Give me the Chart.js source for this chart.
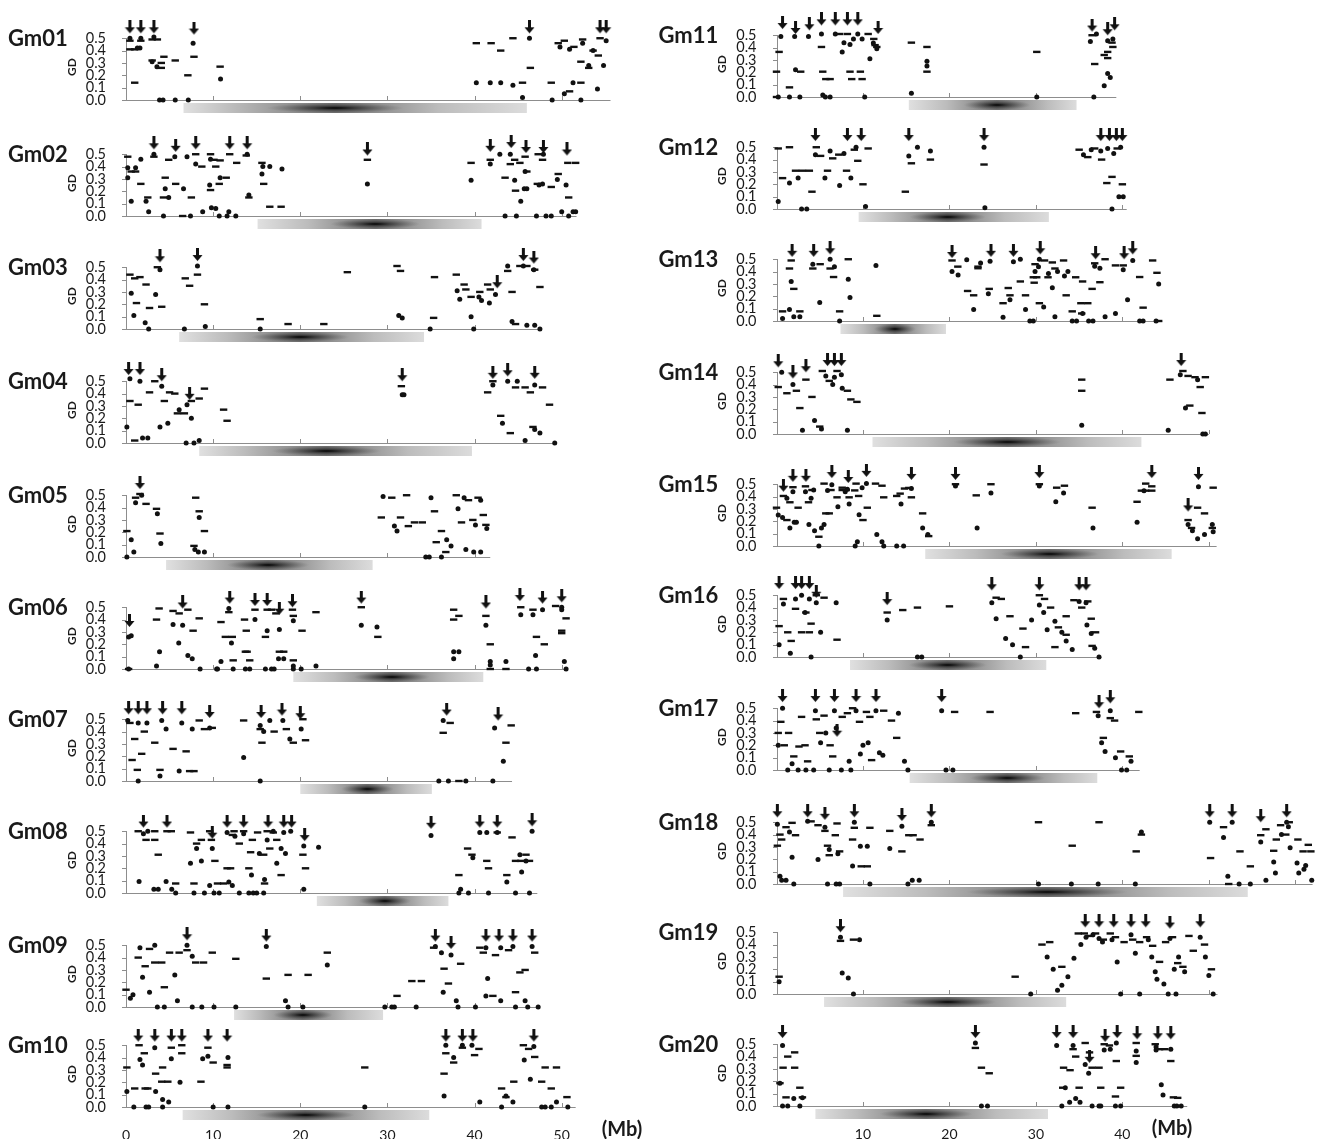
<!DOCTYPE html>
<html>
<head>
<meta charset="utf-8">
<script src="https://cdn.jsdelivr.net/npm/chart.js@4.4.0/dist/chart.umd.min.js"></script>
<style>
  body { margin: 0; background: #fff; }
  #wrap { position: relative; width: 1319px; height: 1139px; overflow: hidden; }
  #wrap canvas { position: absolute; }
</style>
</head>
<body>
<div id="wrap"></div>
<script>
// ---- data (Mb, GD) ----
const chromNames = ["Gm01","Gm02","Gm03","Gm04","Gm05","Gm06","Gm07","Gm08","Gm09","Gm10",
                    "Gm11","Gm12","Gm13","Gm14","Gm15","Gm16","Gm17","Gm18","Gm19","Gm20"];
const chromLengths = [55.6,51.7,47.5,49.2,41.8,50.5,44.3,47.2,47.3,51.6,
                      39.3,40.5,44.6,50.0,50.9,37.6,42.0,62.0,51.0,47.5];
const cenStart = [6.6,15.1,6.1,8.4,4.6,19.2,20.0,21.9,12.4,6.5, 15.3,9.5,7.4,11.1,17.2,8.5,15.4,7.7,5.5,4.5];
const cenEnd   = [46.0,40.8,34.2,39.7,28.3,41.0,35.1,37.0,29.5,34.8, 34.7,31.5,19.6,42.2,45.7,31.2,37.1,54.5,33.5,31.4];
const cenPeak  = [24.0,28.6,20.0,23.0,16.3,30.5,27.7,29.7,20.3,20.6, 25.5,19.8,13.7,26.7,31.6,19.8,26.7,31.3,19.8,17.3];
const yTicks = [0, 0.1, 0.2, 0.3, 0.4, 0.5];

const gm01Dots = [[0.45,0.5],[1.7,0.5],[3.2,0.51],[1.6,0.42],[1.3,0.42],[3.0,0.31],[3.55,0.27],[3.85,0],[4.25,0],[5.65,0],[7.15,0],[7.7,0.46],[10.85,0.17],
  [46.3,0.5],[41.8,0.14],[43.0,0.14],[40.2,0.14],[44.4,0.12],[45.5,0.02],[48.9,0],[49.8,0.43],[50.9,0.41],[52.4,0.46],[51.3,0.14],[50.3,0.05],[53.1,0.28],[52.2,0],[54.8,0.28],[54.1,0.09],[55.1,0.48],[53.6,0.4]];
const gm01Dashes = [[0.45,0.48],[1.7,0.48],[3.0,0.49],[3.6,0.49],[0.45,0.41],[1.0,0.41],[3.0,0.32],[1.0,0.14],[4.05,0.3],[4.35,0.35],[4.05,0.26],[5.65,0.32],[7.1,0.2],[7.8,0.35],[10.8,0.27],
  [40.2,0.46],[41.9,0.46],[43.0,0.4],[44.4,0.5],[46.4,0.26],[45.5,0.14],[48.8,0.14],[49.6,0.46],[50.3,0.48],[51.4,0.43],[52.4,0.49],[52.2,0.14],[50.9,0.07],[52.2,0.31],[53.1,0.26],[53.6,0.4],[54.2,0.36],[54.4,0.5]];
const gm01Arrows = [[0.45,0.54],[1.7,0.54],[3.2,0.54],[7.8,0.53],[46.3,0.54],[54.4,0.54],[55.1,0.54]];

const gm02Dots = [[0.2,0.39],[1.1,0.39],[0.6,0.12],[0.2,0.31],[1.7,0.46],[2.3,0.12],[2.6,0.035],[3.2,0.5],[4.3,0],[4.5,0.22],[4.9,0.15],[5.6,0.48],[6.6,0.22],[7.0,0.48],[7.4,0],[8.0,0.42],[8.8,0.035],[9.7,0.46],[9.6,0.25],[9.8,0.066],[10.3,0.06],[10.8,0.31],[10.7,0],[11.6,0],[11.8,0.035],[12.6,0],[13.9,0.5],[14.1,0.17],[15.7,0.4],[16.5,0.4],[15.6,0.34],[17.9,0.38],
  [27.7,0.26],[39.6,0.29],[41.8,0.42],[42.9,0.5],[44.1,0.5],[44.6,0.29],[45.3,0.12],[45.8,0.36],[45.7,0.22],[46.0,0.22],[43.5,0],[44.8,0],[47.9,0.5],[47.4,0.25],[47.8,0.26],[49.5,0.295],[47.1,0],[48.2,0],[48.8,0],[50.0,0.035],[50.8,0],[51.3,0.035],[51.6,0.035],[50.5,0.25]];
const gm02Dashes = [[0.2,0.48],[0.6,0.36],[1.1,0.36],[1.7,0.26],[2.5,0.15],[3.2,0.48],[4.5,0.31],[4.3,0.15],[4.9,0.455],[5.7,0.26],[6.5,0],[7.5,0.15],[8.0,0.5],[8.7,0.4],[9.7,0.5],[10.1,0.455],[10.8,0.45],[10.3,0.4],[9.7,0.21],[10.7,0.26],[11.5,0.31],[11.9,0.5],[12.7,0.43],[13.8,0.49],[14.1,0.15],[15.6,0.43],[15.8,0.26],[16.5,0.075],[17.8,0.075],
  [27.7,0.455],[39.6,0.43],[41.8,0.455],[44.6,0.455],[44.1,0.42],[43.5,0.31],[44.7,0.205],[45.8,0.48],[45.2,0.43],[46.0,0.36],[47.3,0.5],[47.8,0.455],[47.2,0.26],[48.8,0.235],[49.6,0.34],[50.7,0.43],[51.6,0.43],[50.8,0.15]];
const gm02Arrows = [[3.2,0.54],[5.7,0.52],[8.0,0.54],[11.9,0.54],[13.9,0.54],[27.7,0.49],[41.8,0.52],[44.2,0.55],[45.9,0.51],[47.9,0.51],[50.6,0.49]];

const gm03Dots = [[0.6,0.29],[0.9,0.11],[2.2,0.05],[2.6,0],[3.9,0.48],[3.4,0.28],[6.7,0],[8.2,0.51],[9.1,0.02],[15.4,0],[31.3,0.11],[31.7,0.09],[34.9,0],[38.0,0.31],[38.3,0.24],[39.6,0.1],[39.9,0],[40.5,0.26],[40.8,0.23],[41.7,0.21],[42.4,0.28],[43.8,0.51],[44.3,0.06],[45.6,0.51],[46.8,0.48],[46.9,0.03],[47.5,0],[46.0,0.03]];
const gm03Dashes = [[0.45,0.44],[1.0,0.41],[1.6,0.42],[1.2,0.21],[2.3,0.36],[2.7,0.17],[3.6,0.5],[4.1,0.18],[6.8,0.41],[8.2,0.44],[9.0,0.2],[7.3,0.35],[15.4,0.08],[18.6,0.04],[22.7,0.04],[25.4,0.46],[31.1,0.51],[31.5,0.47],[35.3,0.09],[35.4,0.42],[37.9,0.44],[38.8,0.36],[39.0,0.32],[39.6,0.26],[40.6,0.3],[41.5,0.36],[41.8,0.32],[43.8,0.47],[44.3,0.3],[44.7,0.04],[45.2,0.51],[46.0,0.51],[46.9,0.48],[47.5,0.34]];
const gm03Arrows = [[3.9,0.54],[8.2,0.55],[42.6,0.33],[45.6,0.55],[46.8,0.53]];

const gm04Dots = [[0.1,0.13],[0.45,0.52],[1.6,0.5],[1.9,0.04],[2.5,0.04],[4.1,0.46],[3.9,0.13],[4.8,0.16],[6.1,0.27],[7.0,0.31],[7.5,0.2],[6.9,0],[7.8,0],[8.4,0.02],[31.7,0.39],[31.9,0.39],[42.1,0.47],[43.2,0.16],[43.8,0.5],[44.9,0.5],[46.9,0.11],[47.5,0.08],[45.8,0.02],[46.9,0.47],[49.2,0]];
const gm04Dashes = [[0.45,0.34],[1.4,0.31],[1.0,0.02],[2.7,0.41],[3.3,0.5],[4.4,0.34],[5.0,0.41],[5.6,0.4],[5.9,0.24],[6.7,0.24],[7.5,0.34],[8.4,0.36],[9.0,0.44],[11.2,0.27],[11.6,0.18],[31.6,0.46],[41.5,0.41],[42.1,0.5],[43.0,0.22],[44.1,0.08],[44.7,0.45],[45.8,0.45],[46.4,0.41],[46.7,0.13],[47.8,0.45],[48.6,0.31]];
const gm04Arrows = [[0.3,0.55],[1.6,0.55],[4.1,0.5],[7.3,0.35],[31.7,0.5],[42.1,0.52],[43.8,0.54],[46.9,0.52]];

const gm05Dots = [[0.1,0],[0.6,0.14],[0.9,0.04],[1.1,0.44],[1.8,0.5],[3.6,0.35],[4.0,0.11],[7.9,0.06],[8.3,0.04],[8.4,0.32],[9.0,0.04],[29.5,0.49],[30.8,0.25],[31.1,0.21],[34.4,0],[34.8,0],[35.0,0.48],[36.2,0],[36.8,0.14],[37.3,0.09],[38.1,0.39],[38.8,0.48],[39.0,0.06],[40.1,0.26],[40.7,0.46],[41.4,0.23],[40.7,0.04],[39.9,0.04]];
const gm05Dashes = [[0.1,0.21],[1.1,0.48],[1.6,0.51],[2.3,0.43],[3.5,0.39],[3.9,0.19],[7.8,0.09],[8.0,0.48],[8.4,0.37],[9.0,0.21],[29.3,0.32],[30.5,0.48],[31.5,0.32],[32.2,0.5],[32.4,0.25],[33.1,0.28],[34.0,0.28],[35.4,0.37],[35.6,0.12],[36.2,0.21],[36.7,0.04],[37.9,0.5],[38.5,0.28],[39.3,0.46],[39.8,0.3],[40.4,0.48],[41.3,0.26],[41.0,0.34]];
const gm05Arrows = [[1.6,0.55]];

const gm06Dots = [[0.3,0],[0.3,0.26],[0.6,0.27],[3.5,0.024],[3.85,0.14],[5.4,0.36],[6.05,0.21],[6.5,0.355],[7.1,0.11],[7.6,0.083],[8.5,0],[12.1,0.21],[11.8,0.49],[10.9,0.06],[10.4,0],[10.5,0],[12.3,0],[13.7,0],[14.2,0],[14.8,0.4],[16.2,0.31],[16.0,0],[16.7,0],[17.0,0],[17.6,0.32],[17.5,0.083],[18.1,0.083],[19.2,0.39],[19.2,0.024],[19.2,0],[20.1,0],[21.8,0.024],
  [27.0,0.355],[28.8,0.34],[37.6,0.14],[38.2,0.14],[37.6,0.083],[41.3,0.355],[41.8,0.06],[41.8,0.033],[43.6,0.06],[45.3,0.44],[46.7,0.44],[47.0,0.11],[47.8,0.48],[46.2,0],[47.1,0],[50.0,0.5],[50.0,0.48],[50.3,0.06],[50.5,0]];
const gm06Dashes = [[0.3,0],[3.5,0.4],[3.8,0.49],[5.4,0.47],[6.1,0.45],[7.1,0.48],[7.7,0.31],[8.4,0.41],[10.9,0.38],[11.4,0.26],[12.2,0.26],[11.8,0.46],[12.3,0.07],[13.6,0.4],[13.8,0.31],[13.7,0.14],[13.9,0.14],[14.2,0.07],[14.8,0.48],[16.0,0.26],[16.2,0.48],[16.7,0.48],[17.2,0.45],[17.6,0.14],[18.1,0.14],[19.1,0.48],[19.2,0.43],[20.2,0.31],[19.2,0.07],[21.8,0.46],
  [27.0,0.5],[28.9,0.26],[37.6,0.48],[38.2,0.43],[37.6,0.4],[41.3,0.43],[41.8,0.2],[41.8,0],[43.6,0],[45.3,0.5],[46.7,0.48],[47.1,0.26],[48.0,0.2],[49.3,0.51],[50.5,0.41],[50.0,0.31],[50.0,0.29]];
const gm06Arrows = [[0.4,0.34],[6.5,0.49],[11.9,0.53],[14.8,0.51],[16.2,0.51],[17.6,0.44],[19.1,0.5],[27.0,0.53],[41.3,0.49],[45.2,0.55],[47.8,0.53],[50.0,0.54]];

const gm07Dots = [[0.2,0.49],[1.4,0.47],[2.4,0.47],[4.1,0.49],[4.6,0.42],[6.4,0.47],[7.6,0.42],[1.4,0],[3.9,0.04],[6.1,0.08],[9.6,0.43],[13.5,0.19],[15.4,0.45],[15.8,0.4],[15.4,0],[16.5,0.49],[18.0,0.49],[18.8,0.34],[20.1,0.42],[36.4,0.49],[35.9,0],[37.0,0],[39.0,0],[42.3,0.43],[43.3,0.16],[42.1,0]];
const gm07Dashes = [[0.45,0.47],[1.0,0.34],[0.7,0.17],[1.3,0.09],[1.8,0.22],[2.1,0.4],[3.3,0.31],[3.9,0.09],[5.4,0.26],[6.9,0.24],[7.3,0.08],[7.8,0.08],[8.4,0.49],[9.0,0.42],[9.9,0.43],[13.5,0.49],[15.4,0.42],[15.6,0.31],[17.0,0.4],[18.4,0.42],[19.2,0.31],[20.3,0.5],[20.6,0.33],[36.4,0.39],[37.2,0.47],[38.2,0],[43.6,0.31],[44.2,0.45]];
const gm07Arrows = [[0.3,0.54],[1.4,0.54],[2.4,0.54],[4.2,0.54],[6.4,0.54],[9.6,0.51],[15.5,0.51],[17.9,0.53],[20.0,0.5],[36.8,0.53],[42.7,0.49]];

const gm08Dots = [[2.0,0.48],[2.5,0.5],[1.5,0.094],[3.2,0.03],[3.7,0.03],[4.6,0.094],[5.25,0.03],[5.7,0],[7.4,0.24],[7.8,0],[8.1,0.36],[8.65,0.26],[9.0,0],[9.9,0.36],[9.6,0.06],[10.1,0],[10.7,0],[11.8,0.09],[12.2,0.06],[11.6,0.49],[12.5,0.46],[13.0,0],[13.5,0.48],[14.4,0.145],[14.1,0],[14.6,0],[15.0,0],[15.8,0],[15.3,0.32],[15.9,0.11],[16.2,0.43],[16.9,0.5],[17.3,0.24],[17.8,0.36],[18.3,0.32],[18.1,0.49],[18.9,0.5],[20.4,0.38],[20.4,0.03],[22.1,0.37],
  [35.0,0.465],[38.4,0.03],[38.2,0],[39.3,0],[39.8,0.285],[40.6,0.49],[41.4,0.49],[41.6,0],[42.6,0.49],[43.7,0.09],[45.2,0.31],[45.9,0.26],[45.4,0.17],[44.7,0],[46.3,0],[46.6,0.5]];
const gm08Dashes = [[1.4,0.5],[3.3,0.5],[2.3,0.43],[3.3,0.43],[3.7,0.31],[5.7,0.077],[4.7,0.5],[5.2,0.5],[7.4,0.49],[7.8,0.077],[8.1,0.4],[8.65,0.43],[9.8,0.43],[9.6,0.5],[10.2,0.26],[10.5,0.077],[11.2,0.077],[12.4,0.5],[12.2,0.47],[11.6,0.2],[12.0,0.2],[13.5,0.5],[13.0,0.4],[14.1,0.2],[14.5,0.43],[14.3,0.33],[15.8,0.31],[15.1,0.49],[16.2,0.5],[16.9,0.49],[15.9,0.077],[16.5,0.36],[17.3,0.43],[17.8,0.145],[20.3,0.31],[20.6,0.2],
  [38.2,0.145],[39.2,0.36],[39.7,0.31],[41.4,0.26],[41.6,0.2],[42.6,0.49],[43.7,0.145],[44.3,0.45],[45.9,0.31],[44.7,0.26],[45.3,0.26],[46.3,0.26]];
const gm08Arrows = [[2.0,0.53],[4.7,0.53],[9.9,0.44],[11.6,0.53],[13.5,0.53],[16.3,0.53],[18.1,0.53],[19.0,0.53],[20.5,0.42],[35.0,0.52],[40.6,0.53],[42.6,0.53],[46.6,0.54]];

const gm09Dots = [[0.5,0.07],[0.8,0.1],[1.6,0.48],[1.9,0.24],[2.7,0.12],[3.3,0.5],[3.6,0],[4.4,0],[5.6,0.26],[5.9,0.05],[7.0,0.5],[7.6,0.41],[7.6,0],[8.7,0],[10.1,0],[12.6,0],[16.1,0.49],[18.3,0.05],[18.6,0],[20.3,0],[23.1,0.34],[29.7,0],[30.5,0],[30.8,0],[33.3,0],[35.5,0.49],[36.2,0.44],[36.4,0.12],[37.3,0.42],[37.9,0.05],[38.1,0],[40.1,0],[41.3,0.48],[41.5,0.23],[41.3,0.09],[43.0,0.48],[43.0,0.05],[44.4,0.49],[44.7,0],[45.8,0.05],[46.1,0],[46.6,0.49],[47.3,0]];
const gm09Dashes = [[0,0.14],[1.4,0.4],[2.2,0.33],[2.7,0.47],[3.3,0.36],[4.1,0.36],[4.4,0.16],[5.0,0.44],[6.1,0.44],[7.0,0.46],[8.0,0.36],[8.9,0.36],[9.9,0.44],[12.6,0.39],[16.1,0.23],[18.6,0.26],[20.9,0.26],[23.1,0.44],[31.1,0.09],[32.8,0.21],[33.9,0.21],[35.3,0.48],[36.5,0.31],[37.0,0.19],[38.4,0.35],[40.6,0.48],[41.0,0.44],[42.4,0.42],[42.1,0.09],[43.9,0.46],[44.7,0.12],[45.2,0.28],[45.8,0.3],[46.9,0.44]];
const gm09Arrows = [[7.0,0.54],[16.1,0.53],[35.5,0.53],[37.3,0.47],[41.3,0.53],[42.8,0.53],[44.4,0.53],[46.6,0.53]];

const gm10Dots = [[0.1,0.125],[0.9,0],[1.6,0.385],[1.9,0.34],[2.3,0],[2.6,0],[3.3,0.48],[3.4,0.125],[4.2,0.06],[4.9,0.04],[4.2,0],[5.2,0.39],[6.2,0.2],[8.8,0.39],[9.4,0.41],[10.0,0],[11.7,0.4],[11.7,0],[27.4,0],
  [36.5,0.09],[36.7,0.5],[37.6,0.4],[38.6,0.5],[39.7,0.5],[40.6,0.04],[43.6,0.09],[43.1,0],[44.4,0.04],[45.7,0.38],[46.8,0.49],[46.4,0.225],[47.7,0],[48.1,0],[48.8,0],[49.4,0.04],[50.7,0]];
const gm10Dashes = [[0.1,0.32],[1.0,0.15],[2.2,0.15],[1.5,0.5],[2.1,0.435],[2.5,0.15],[3.4,0.27],[4.2,0.32],[4.1,0.205],[4.8,0.205],[5.2,0.48],[6.4,0.5],[6.4,0.435],[8.6,0.205],[9.4,0.48],[10.0,0.36],[11.6,0.34],[11.6,0.32],[27.4,0.32],
  [36.5,0.27],[36.7,0.435],[37.6,0.36],[38.6,0.48],[40.0,0.42],[40.5,0.47],[43.1,0.15],[43.6,0.08],[44.5,0.205],[45.6,0.5],[46.2,0.47],[46.9,0.405],[47.7,0.205],[48.1,0.32],[49.4,0.32],[48.8,0.15],[50.6,0.08]];
const gm10Arrows = [[1.4,0.53],[3.3,0.53],[5.2,0.53],[6.4,0.53],[9.4,0.53],[11.6,0.53],[36.7,0.53],[38.6,0.53],[39.8,0.53],[46.8,0.53]];

const gm11Dots = [[0.5,0.49],[0.2,0],[2.1,0.49],[1.5,0],[2.2,0.22],[2.7,0],[3.7,0.49],[5.2,0.51],[5.35,0.017],[5.65,0],[6.2,0],[6.8,0.51],[7.6,0.365],[7.8,0.44],[8.5,0.425],[8.9,0.47],[9.4,0.51],[9.9,0.47],[10.2,0],[11.2,0.437],[11.6,0.39],[10.8,0.31],[15.6,0.03],[17.4,0.29],[17.4,0.25],
  [30.1,0],[37.0,0.51],[36.3,0.45],[36.7,0],[38.3,0.455],[38.9,0.47],[38.3,0.19],[38.6,0.158],[37.9,0.092]];
const gm11Dashes = [[0,0],[0.3,0.365],[0,0.205],[1.5,0.078],[2.8,0.205],[5.2,0.405],[5.35,0.205],[5.7,0.145],[6.2,0.145],[7.3,0.51],[8.2,0.51],[8.5,0.205],[8.7,0.145],[9.7,0.205],[9.9,0.145],[10.6,0.51],[11.25,0.47],[11.4,0.42],[11.6,0.405],[15.6,0.44],[17.4,0.405],[17.4,0.205],
  [30.1,0.365],[36.5,0.5],[36.8,0.267],[38.9,0.405],[38.3,0.365],[37.9,0.34],[38.3,0.315],[38.8,0.44]];
const gm11Arrows = [[0.7,0.55],[2.2,0.51],[3.8,0.54],[5.2,0.58],[6.8,0.58],[8.2,0.58],[9.4,0.58],[11.75,0.51],[36.5,0.53],[38.3,0.5],[39.1,0.54]];

const gm12Dots = [[0.2,0.06],[1.5,0.21],[2.5,0.25],[2.9,0],[3.5,0],[4.5,0.44],[5.6,0.25],[6.2,0.47],[7.3,0.19],[7.8,0.45],[8.6,0.25],[9.2,0.5],[10.3,0.02],[15.3,0.43],[16.3,0.5],[17.8,0.47],[24.0,0.5],[24.1,0.01],[35.5,0.44],[36.4,0.48],[37.5,0.47],[38.3,0.49],[39.0,0.45],[39.8,0.5],[38.8,0],[39.6,0.1],[40.1,0.1]];
const gm12Dashes = [[0.2,0.49],[0.7,0.25],[1.5,0.5],[2.2,0.31],[3.0,0.31],[3.8,0.31],[4.1,0.14],[4.6,0.5],[5.1,0.43],[5.9,0.31],[6.5,0.41],[7.2,0.44],[8.1,0.31],[9.0,0.48],[9.4,0.39],[10.0,0.2],[10.6,0.49],[14.9,0.14],[15.6,0.37],[17.8,0.4],[24.0,0.36],[35.0,0.48],[36.0,0.42],[36.8,0.49],[37.6,0.4],[38.2,0.21],[38.8,0.26],[39.4,0.49],[40.0,0.2]];
const gm12Arrows = [[4.5,0.55],[8.2,0.55],[9.8,0.55],[15.3,0.55],[24.0,0.55],[37.5,0.55],[38.5,0.55],[39.3,0.55],[40.0,0.55]];

const gm13Dots = [[0.7,0.02],[1.5,0.094],[1.7,0.32],[2.0,0.035],[2.7,0.035],[4.2,0.46],[5.0,0.15],[6.2,0.5],[6.7,0.44],[7.3,0],[8.3,0.337],[8.5,0.19],[11.5,0.45],
  [20.3,0.4],[21.0,0.373],[22.8,0.094],[22.0,0.495],[23.6,0.47],[24.7,0.483],[24.5,0.22],[26.2,0.03],[27.0,0.172],[27.4,0.48],[28.2,0.5],[28.8,0.094],[29.3,0],[29.7,0],[29.9,0.4],[30.3,0.44],[30.4,0.5],[30.9,0.113],[31.45,0.384],[31.9,0.27],[32.5,0.4],[33.3,0.365],[33.7,0.4],[32.2,0.035],[34.2,0],[34.7,0],[35.4,0.061],[36.1,0],[36.6,0],[36.8,0.443],[37.4,0.427],[38.0,0.035],[39.2,0.061],[40.1,0.415],[40.6,0.172],[41.2,0.49],[42.0,0],[42.4,0],[43.9,0],[44.2,0.3]];
const gm13Dashes = [[0.7,0.078],[1.5,0.425],[2.0,0.26],[1.7,0.49],[2.7,0.078],[4.2,0.425],[5.05,0.46],[6.2,0.425],[6.6,0.356],[7.3,0.078],[8.3,0.5],[11.6,0.042],
  [20.3,0.49],[20.97,0.44],[22.1,0.243],[22.8,0.208],[23.3,0.44],[23.3,0.427],[24.6,0.26],[26.2,0.144],[26.8,0.267],[27.0,0.208],[28.2,0.32],[28.8,0.208],[29.7,0.354],[29.8,0.31],[29.9,0.46],[30.1,0.354],[31.0,0.49],[30.4,0.144],[31.4,0.354],[31.9,0.474],[32.2,0.425],[33.2,0.49],[33.5,0.208],[34.2,0.078],[34.6,0.354],[35.4,0.32],[35.3,0.061],[35.2,0.144],[36.0,0.144],[36.5,0.26],[36.8,0.467],[37.4,0.314],[38.0,0.5],[39.2,0.45],[40.1,0.45],[42.0,0.356],[42.4,0.108],[43.5,0.49],[44.0,0.39],[44.2,0]];
const gm13Arrows = [[1.8,0.52],[4.3,0.52],[6.2,0.54],[20.3,0.51],[24.8,0.52],[27.4,0.52],[30.5,0.54],[36.9,0.5],[40.2,0.5],[41.2,0.54]];

const gm14Dots = [[0.6,0.5],[1.9,0.4],[3.0,0.03],[4.4,0.11],[5.2,0.04],[5.7,0.47],[6.5,0.4],[6.7,0.46],[7.5,0.48],[7.6,0.37],[8.2,0.03],[35.3,0.07],[45.3,0.03],[46.7,0.48],[47.3,0.21],[48.7,0.44],[49.3,0],[49.6,0]];
const gm14Dashes = [[0.2,0.38],[1.2,0.33],[2.3,0.35],[2.7,0.21],[3.4,0.44],[4.1,0.3],[5.0,0.06],[5.3,0.51],[6.1,0.43],[7.0,0.51],[8.2,0.35],[8.6,0.28],[9.3,0.26],[35.3,0.44],[35.3,0.35],[45.5,0.44],[47.0,0.51],[47.6,0.47],[47.8,0.23],[48.4,0.46],[49.0,0.38],[49.2,0.17],[49.6,0.46]];
const gm14Arrows = [[0.2,0.54],[1.9,0.45],[3.4,0.5],[5.9,0.55],[6.7,0.55],[7.5,0.55],[46.8,0.55]];

const gm15Dots = [[0.2,0.25],[0.7,0.23],[1.2,0.387],[1.55,0.146],[2.05,0.193],[2.3,0.193],[1.9,0.44],[3.35,0.44],[4.0,0.387],[3.75,0.175],[4.4,0.123],[4.9,0],[5.2,0.146],[5.5,0.175],[4.3,0.453],[6.4,0.495],[5.9,0.45],[7.1,0.318],[7.95,0.44],[8.2,0.46],[8.4,0.34],[9.9,0.472],[9.55,0.252],[9.1,0],[9.35,0.035],[10.4,0.505],[11.6,0.094],[12.2,0.035],[12.4,0],[13.9,0],[14.7,0],[14.4,0.34],[15.6,0.465],[16.9,0.146],[17.5,0.094],
  [20.7,0.485],[23.2,0.146],[24.8,0.43],[30.4,0.485],[33.2,0.43],[32.3,0.358],[36.6,0.146],[41.7,0.193],[42.5,0.448],[47.6,0.175],[48.1,0.123],[48.7,0.059],[49.5,0.094],[48.8,0.48],[50.4,0.175],[50.5,0.116]];
const gm15Dashes = [[0,0.31],[1.2,0.21],[0.8,0.405],[1.55,0.354],[2.5,0.31],[1.9,0.476],[3.35,0.483],[3.7,0.354],[4.9,0.075],[4.1,0.453],[5.7,0.264],[6.1,0.264],[5.5,0.505],[6.3,0.453],[7.0,0.394],[7.6,0.472],[7.6,0.453],[8.05,0.453],[8.4,0.394],[9.2,0.505],[9.05,0.45],[9.5,0.405],[10.0,0.21],[10.5,0.31],[11.45,0.505],[12.2,0.488],[12.4,0.394],[13.9,0.405],[14.3,0.424],[14.8,0.465],[15.3,0.47],[15.6,0.394],[16.9,0.264],[17.6,0.08],
  [20.7,0.5],[23.1,0.41],[24.8,0.5],[30.4,0.5],[32.4,0.472],[33.3,0.488],[36.5,0.31],[41.7,0.358],[42.2,0.448],[42.7,0.448],[42.7,0.505],[43.4,0.448],[43.4,0.483],[47.6,0.21],[48.0,0.146],[48.7,0.31],[49.5,0.264],[50.5,0.472],[50.4,0.146]];
const gm15Arrows = [[0.8,0.44],[1.9,0.52],[3.4,0.52],[6.4,0.55],[8.3,0.51],[10.4,0.56],[15.6,0.535],[20.7,0.535],[30.4,0.55],[43.4,0.55],[47.6,0.28],[48.8,0.535]];

const gm16Dots = [[0.3,0.1],[0.8,0.43],[1.6,0.03],[2.2,0.47],[2.9,0.5],[3.3,0.36],[3.8,0.47],[4.6,0.44],[5.1,0.2],[4.0,0],[6.9,0.44],[12.8,0.3],[16.3,0],[16.8,0],[24.9,0.44],[25.4,0.31],[26.5,0.15],[27.3,0.1],[28.2,0],[29.5,0.3],[30.4,0.42],[30.9,0.36],[31.3,0.22],[32.2,0.29],[33.0,0.2],[33.5,0.13],[34.2,0.06],[35.0,0.45],[35.8,0.44],[35.9,0.26],[36.4,0.19],[36.8,0.07],[37.3,0]];
const gm16Dashes = [[0.3,0.25],[0.8,0.47],[1.3,0.2],[1.7,0.13],[2.2,0.39],[2.9,0.2],[3.4,0.36],[3.8,0.2],[4.6,0.5],[4.0,0.27],[5.5,0.48],[7.0,0.14],[12.8,0.36],[14.6,0.38],[16.3,0.4],[20.0,0.41],[25.4,0.48],[26.0,0.47],[27.0,0.33],[28.5,0.23],[28.8,0.08],[30.4,0.5],[31.0,0.47],[31.7,0.4],[32.2,0.08],[32.6,0.24],[33.5,0.18],[33.5,0.33],[34.4,0.46],[35.3,0.4],[36.0,0.45],[36.4,0.31],[36.9,0.2],[36.5,0.09]];
const gm16Arrows = [[0.3,0.55],[2.2,0.55],[2.9,0.55],[3.8,0.55],[4.6,0.48],[12.8,0.42],[24.9,0.54],[30.4,0.54],[35.0,0.54],[35.8,0.54]];

const gm17Dots = [[0.2,0.2],[0.7,0.5],[1.3,0],[1.8,0.05],[2.5,0],[3.4,0],[4.5,0.48],[4.3,0],[5.1,0.22],[5.7,0.3],[6.1,0],[6.7,0.48],[6.9,0.34],[7.5,0],[8.4,0.07],[8.6,0],[9.2,0.48],[9.7,0.13],[10.0,0.2],[10.6,0.22],[11.5,0.48],[11.9,0.14],[12.3,0.12],[14.1,0.46],[14.8,0.07],[15.2,0],[19.1,0.48],[19.6,0],[20.4,0],[37.2,0.44],[37.6,0.22],[38.0,0.15],[38.6,0.48],[39.2,0.1],[39.9,0],[40.5,0],[41.0,0.07]];
const gm17Dashes = [[0.2,0.3],[0.5,0.39],[0.9,0.2],[1.4,0.3],[2.0,0.11],[2.6,0.19],[2.9,0.43],[3.3,0.2],[3.6,0.07],[4.6,0.41],[5.0,0.3],[5.5,0.44],[6.2,0.2],[6.5,0.11],[7.6,0.43],[8.2,0.46],[8.8,0.5],[9.6,0.39],[10.4,0.47],[10.8,0.43],[11.0,0.08],[12.4,0.48],[13.3,0.4],[13.9,0.26],[20.6,0.47],[24.7,0.47],[34.6,0.46],[37.0,0.47],[37.8,0.26],[38.6,0.42],[39.1,0.4],[39.8,0.15],[40.8,0.11],[41.9,0.47]];
const gm17Arrows = [[0.7,0.55],[4.5,0.55],[6.7,0.55],[7.0,0.27],[9.2,0.55],[11.5,0.55],[19.1,0.55],[37.3,0.5],[38.6,0.54]];

const gm18Dots = [[0.1,0.483],[1.5,0.42],[1.8,0.217],[0.4,0.062],[0.6,0.03],[1.1,0.03],[2.0,0],[3.6,0.507],[5.6,0.46],[4.8,0.198],[6.1,0.28],[7.1,0.245],[5.9,0],[6.9,0],[7.3,0],[9.0,0.5],[9.7,0.305],[10.5,0.305],[8.8,0.145],[10.8,0],[13.1,0.288],[14.5,0.467],[15.2,0],[15.7,0.03],[16.5,0.03],[17.9,0.5],
  [30.3,0],[34.1,0],[37.2,0],[41.5,0],[42.2,0.42],[50.1,0.5],[51.7,0.376],[52.2,0.062],[53.5,0],[52.7,0.5],[54.8,0],[56.0,0.34],[56.6,0.03],[57.5,0.179],[57.7,0.09],[58.4,0.4],[59.0,0.5],[59.2,0.464],[59.4,0.293],[60.2,0.169],[61.2,0.15],[61.0,0.119],[60.4,0.09],[61.9,0.03]];
const gm18Dashes = [[0.4,0.4],[0.6,0.36],[0.1,0.31],[1.1,0.46],[1.8,0.495],[2.2,0.395],[4.0,0.507],[4.8,0.476],[5.6,0.43],[7.0,0.49],[5.9,0.31],[6.1,0.233],[7.3,0.264],[6.8,0.395],[9.0,0.455],[10.8,0.455],[8.8,0.36],[9.8,0.143],[10.5,0.143],[13.1,0.43],[15.3,0.395],[15.8,0.395],[16.6,0.36],[14.5,0.264],[17.9,0.476],
  [30.3,0.5],[34.2,0.31],[37.3,0.5],[41.6,0.264],[42.2,0.4],[50.2,0.21],[51.7,0.46],[52.3,0],[53.6,0.264],[54.8,0.143],[56.0,0.395],[56.6,0.443],[57.5,0.269],[57.8,0.36],[58.3,0.476],[58.9,0.4],[59.3,0.5],[60.3,0.36],[60.9,0.264],[61.5,0.317],[61.8,0.264]];
const gm18Arrows = [[0.1,0.54],[3.6,0.54],[5.6,0.52],[9.0,0.54],[14.5,0.51],[17.9,0.54],[50.1,0.54],[52.7,0.54],[56.0,0.5],[59.0,0.54]];

const gm19Dots = [[0.3,0.1],[7.4,0.46],[7.6,0.17],[8.3,0.13],[8.9,0],[9.6,0.44],[29.4,0],[31.3,0.3],[32.0,0.2],[32.5,0.03],[33.0,0.07],[33.7,0.14],[34.4,0.29],[35.2,0.4],[35.8,0.46],[36.6,0.48],[37.3,0.45],[37.7,0.42],[38.8,0.44],[39.4,0.26],[39.8,0],[41.0,0.48],[41.5,0.33],[42.0,0],[43.0,0.44],[43.4,0.3],[43.8,0.18],[44.0,0.12],[44.8,0.08],[45.3,0],[45.5,0.45],[46.0,0.2],[46.2,0],[46.5,0.3],[47.2,0.18],[49.0,0.46],[49.6,0.3],[50.0,0.15],[50.5,0]];
const gm19Dashes = [[0.3,0.14],[7.4,0.43],[8.9,0.44],[27.6,0.14],[30.7,0.4],[31.6,0.42],[33.0,0.22],[34.9,0.49],[35.6,0.49],[36.3,0.47],[36.9,0.49],[37.8,0.44],[38.6,0.49],[39.2,0.46],[40.2,0.42],[41.2,0.44],[42.0,0.42],[42.8,0.46],[43.5,0.39],[44.3,0.26],[45.0,0.42],[45.8,0.46],[46.4,0.25],[47.0,0.22],[47.7,0.47],[48.2,0.35],[49.5,0.4],[50.3,0.2]];
const gm19Arrows = [[7.4,0.5],[35.7,0.54],[37.3,0.54],[39.0,0.54],[41.0,0.54],[42.7,0.54],[45.5,0.53],[49.0,0.54]];

const gm20Dots = [[0.4,0.185],[0.7,0.49],[0.7,0],[1.3,0],[2.0,0.06],[2.7,0],[3.0,0.066],[23.0,0.51],[23.7,0],[24.4,0],[32.4,0.49],[33.4,0.148],[33.0,0],[33.9,0.03],[34.6,0.06],[35.1,0.03],[34.3,0.49],[35.7,0.335],[36.1,0.265],[36.5,0],[37.3,0],[37.5,0],[37.9,0.453],[38.6,0.46],[39.3,0.51],[39.2,0],[39.8,0],[41.6,0.446],[41.6,0.352],[43.9,0.477],[43.9,0.453],[44.5,0.171],[44.7,0.089],[45.6,0.46],[46.0,0],[46.3,0],[46.8,0]];
const gm20Dashes = [[0.4,0.185],[0.76,0.31],[1.3,0.4],[2.1,0.434],[2.1,0.31],[1.1,0.07],[2.7,0.148],[3.0,0.07],[23.0,0.47],[23.7,0.31],[24.6,0.265],[33.2,0.31],[33.95,0.29],[33.1,0.148],[34.3,0.46],[34.6,0.4],[35.0,0.148],[35.7,0.51],[36.2,0.434],[36.5,0.31],[37.3,0.31],[37.5,0.148],[37.9,0.5],[38.5,0.49],[39.3,0.364],[39.2,0.077],[39.8,0.148],[41.6,0.51],[41.6,0.406],[43.8,0.5],[44.3,0.46],[44.9,0.46],[45.6,0.364],[45.9,0.07],[46.4,0.066]];
const gm20Arrows = [[0.7,0.55],[23.0,0.55],[32.4,0.55],[34.3,0.55],[36.2,0.35],[38.0,0.52],[39.4,0.55],[41.7,0.54],[44.1,0.54],[45.6,0.54]];

const allDots = [gm01Dots,gm02Dots,gm03Dots,gm04Dots,gm05Dots,gm06Dots,gm07Dots,gm08Dots,gm09Dots,gm10Dots,
                 gm11Dots,gm12Dots,gm13Dots,gm14Dots,gm15Dots,gm16Dots,gm17Dots,gm18Dots,gm19Dots,gm20Dots];
const allDashes = [gm01Dashes,gm02Dashes,gm03Dashes,gm04Dashes,gm05Dashes,gm06Dashes,gm07Dashes,gm08Dashes,gm09Dashes,gm10Dashes,
                   gm11Dashes,gm12Dashes,gm13Dashes,gm14Dashes,gm15Dashes,gm16Dashes,gm17Dashes,gm18Dashes,gm19Dashes,gm20Dashes];
const allArrows = [gm01Arrows,gm02Arrows,gm03Arrows,gm04Arrows,gm05Arrows,gm06Arrows,gm07Arrows,gm08Arrows,gm09Arrows,gm10Arrows,
                   gm11Arrows,gm12Arrows,gm13Arrows,gm14Arrows,gm15Arrows,gm16Arrows,gm17Arrows,gm18Arrows,gm19Arrows,gm20Arrows];

// ---- layout ----
const zeroLeft  = [100, 216, 329, 443, 557, 669, 781, 893, 1007, 1107];
const zeroRight = [97, 209, 321, 434, 546, 657, 770, 884, 994, 1106];
const PAD_TOP = 10, PLOT_H = 91, X_H = 35, Y_MAX = 0.65;
const INK = "#111", AXIS = "#8d8d8d";

Chart.defaults.font.family = "Lato, 'Open Sans', sans-serif";
Chart.defaults.color = "#1a1a1a";

function makeArrow() {
  const c = document.createElement("canvas");
  c.width = 11; c.height = 26;
  const g = c.getContext("2d");
  g.fillStyle = INK;
  g.fillRect(4, 0, 3, 7);
  g.beginPath();
  g.moveTo(0.5, 7); g.lineTo(10.5, 7); g.lineTo(5.5, 13); g.closePath();
  g.fill();
  return c;
}
const arrowImg = makeArrow();

const panelPlugin = {
  id: "panel",
  beforeDatasetsDraw(chart, args, o) {
    const i = o.idx;
    const { ctx, scales: { x, y } } = chart;
    const y0 = Math.round(y.getPixelForValue(0));
    const x0 = Math.round(x.getPixelForValue(0));
    // centromere bar
    const bs = x.getPixelForValue(cenStart[i]), be = x.getPixelForValue(cenEnd[i]), bc = x.getPixelForValue(cenPeak[i]);
    const top = y0 + 3, h = 10;
    ctx.save();
    const lg = ctx.createLinearGradient(bs, 0, be, 0);
    const f = (bc - bs) / (be - bs);
    lg.addColorStop(0, "#e0e0e0");
    lg.addColorStop(Math.max(0.01, f - 0.3), "#bcbcbc");
    lg.addColorStop(f, "#707070");
    lg.addColorStop(Math.min(0.99, f + 0.3), "#bcbcbc");
    lg.addColorStop(1, "#dcdcdc");
    ctx.fillStyle = lg;
    ctx.fillRect(bs, top, be - bs, h);
    ctx.beginPath(); ctx.rect(bs, top, be - bs, h); ctx.clip();
    ctx.translate(bc, top + h / 2);
    ctx.scale((be - bs) * 0.2, h / 2);
    const rg = ctx.createRadialGradient(0, 0, 0, 0, 0, 1);
    rg.addColorStop(0, "rgba(0,0,0,1)");
    rg.addColorStop(0.3, "rgba(15,15,15,0.6)");
    rg.addColorStop(1, "rgba(60,60,60,0)");
    ctx.fillStyle = rg;
    ctx.fillRect(-1, -1, 2, 2);
    ctx.restore();
    // axes
    ctx.save();
    ctx.strokeStyle = AXIS; ctx.lineWidth = 1;
    ctx.beginPath();
    ctx.moveTo(x0, y0 + 0.5); ctx.lineTo(x.getPixelForValue(chromLengths[i]), y0 + 0.5);
    for (let t = 10; t <= chromLengths[i]; t += 10) {
      const px = Math.round(x.getPixelForValue(t)) + 0.5;
      ctx.moveTo(px, y0); ctx.lineTo(px, y0 - 4);
    }
    ctx.moveTo(x0 + 0.5, y0 + 0.5); ctx.lineTo(x0 + 0.5, Math.round(y.getPixelForValue(0.5)));
    yTicks.forEach(v => {
      const py = Math.round(y.getPixelForValue(v)) + 0.5;
      ctx.moveTo(x0 - 4, py); ctx.lineTo(x0, py);
    });
    ctx.stroke();
    ctx.restore();
  },
  afterDraw(chart, args, o) {
    const i = o.idx;
    const { ctx, chartArea, scales: { x, y } } = chart;
    const y0 = y.getPixelForValue(0);
    ctx.save();
    ctx.fillStyle = "#1a1a1a";
    ctx.font = "bold 22px Lato, sans-serif";
    ctx.textBaseline = "alphabetic";
    ctx.textAlign = "left";
    ctx.fillText(chromNames[i], chartArea.left - 118, y0 - 54);
    ctx.save();
    ctx.translate(chartArea.left - 54, y0 - 33);
    ctx.rotate(-Math.PI / 2);
    ctx.font = "bold 12px Lato, sans-serif";
    ctx.textAlign = "center"; ctx.textBaseline = "middle";
    ctx.fillText("GD", 0, 0);
    ctx.restore();
    if (o.bottom) {
      ctx.font = "bold 20px Lato, sans-serif";
      ctx.textBaseline = "middle";
      ctx.fillText("(Mb)", x.getPixelForValue(o.side === "L" ? 54.6 : 43.4), y0 + 23);
    }
    ctx.restore();
  }
};
Chart.register(panelPlugin);

const wrap = document.getElementById("wrap");

function buildPanel(i) {
  const right = i >= 10;
  const row = i % 10;
  const y0 = right ? zeroRight[row] : zeroLeft[row];
  const left = right ? 650 : 0;
  const width = right ? 669 : 660;
  const yw = right ? 126.5 : 126;
  const pxPerMb = right ? 8.75 : 8.82;
  const xMax = (width - yw) / pxPerMb;
  const bottom = row === 9;

  const cv = document.createElement("canvas");
  cv.width = width;
  cv.height = PAD_TOP + PLOT_H + X_H;
  cv.style.left = left + "px";
  cv.style.top = (y0 - PAD_TOP - PLOT_H) + "px";
  wrap.appendChild(cv);

  const pts = arr => arr.map(([x, y]) => ({ x, y }));

  new Chart(cv, {
    type: "scatter",
    data: {
      datasets: [
        { data: pts(allDashes[i]), pointStyle: "line", pointRadius: 3.7, pointBorderWidth: 2.4,
          pointBorderColor: INK, pointBackgroundColor: INK, clip: false },
        { data: pts(allDots[i]), pointStyle: "circle", pointRadius: 2.5, pointBorderWidth: 0,
          pointBackgroundColor: INK, pointBorderColor: INK, clip: false },
        { data: pts(allArrows[i]), pointStyle: arrowImg, pointRadius: 5, clip: false }
      ]
    },
    options: {
      responsive: false,
      animation: false,
      events: [],
      layout: { padding: { top: PAD_TOP, left: 0, right: 0, bottom: 0 } },
      plugins: {
        legend: { display: false },
        tooltip: { enabled: false },
        panel: { idx: i, bottom: bottom, side: right ? "R" : "L" }
      },
      scales: {
        x: {
          type: "linear", min: 0, max: xMax,
          grid: { display: false }, border: { display: false },
          ticks: { display: bottom, autoSkip: false, stepSize: 10, padding: 12, color: "#1a1a1a", font: { size: 14 } },
          afterBuildTicks: s => {
            s.ticks = s.ticks.filter(t => right ? (t.value >= 10 && t.value <= 40) : t.value <= 50);
          },
          afterFit: s => { s.height = X_H; }
        },
        y: {
          type: "linear", min: 0, max: Y_MAX,
          grid: { display: false }, border: { display: false },
          ticks: { autoSkip: false, padding: 12, color: "#1a1a1a", font: { size: 14.5 },
                   callback: v => v.toFixed(1) },
          afterBuildTicks: s => { s.ticks = yTicks.map(v => ({ value: v })); },
          afterFit: s => { s.width = yw; }
        }
      }
    }
  });
}

for (let i = 0; i < 20; i++) buildPanel(i);
</script>
</body>
</html>
